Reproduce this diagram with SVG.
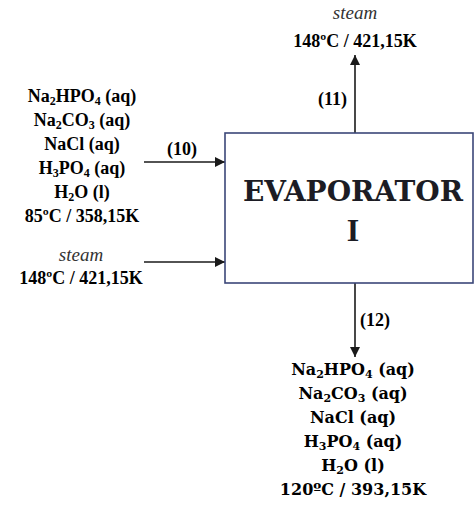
<svg xmlns="http://www.w3.org/2000/svg" width="476" height="516" viewBox="0 0 476 516">
<defs>
<marker id="ah" viewBox="0 0 10 10" refX="10" refY="5" markerWidth="10" markerHeight="10" markerUnits="userSpaceOnUse" orient="auto">
<path d="M0,0 L10,5 L0,10 Z" fill="#1a1a1a"/>
</marker>
</defs>
<rect width="476" height="516" fill="#fff"/>
<g id="connectors" stroke="#1a1a1a" stroke-width="1.6" fill="none">
<line x1="144" y1="162" x2="225" y2="162" marker-end="url(#ah)"/>
<line x1="144" y1="262" x2="225" y2="262" marker-end="url(#ah)"/>
<line x1="355" y1="133" x2="355" y2="55" marker-end="url(#ah)"/>
<line x1="355" y1="283" x2="355" y2="357" marker-end="url(#ah)"/>
</g>
<text font-family="Liberation Serif" font-size="18" font-weight="bold" x="167" y="155">(10)</text>
<text font-family="Liberation Serif" font-size="18" font-weight="bold" x="318" y="105">(11)</text>
<text font-family="Liberation Serif" font-size="18" font-weight="bold" x="360" y="326">(12)</text>
<g id="evaporator">
<rect x="225" y="133" width="248" height="150" fill="#fff" stroke="#3b4778" stroke-width="1.6"/>
<text font-family="DejaVu Serif" font-size="28" font-weight="bold" text-anchor="middle" fill="#1c1c24" x="353" y="201">EVAPORATOR</text>
<text font-family="serif" font-size="32" font-weight="bold" text-anchor="middle" fill="#1c1c24" x="353" y="241">I</text>
</g>
<g id="feed">
<text font-family="Liberation Serif" font-size="18" font-weight="bold" text-anchor="middle" x="82" y="102">Na<tspan font-size="12" dy="3">2</tspan><tspan dy="-3">HPO</tspan><tspan font-size="12" dy="3">4</tspan><tspan dy="-3"> (aq)</tspan></text>
<text font-family="Liberation Serif" font-size="18" font-weight="bold" text-anchor="middle" x="82" y="126">Na<tspan font-size="12" dy="3">2</tspan><tspan dy="-3">CO</tspan><tspan font-size="12" dy="3">3</tspan><tspan dy="-3"> (aq)</tspan></text>
<text font-family="Liberation Serif" font-size="18" font-weight="bold" text-anchor="middle" x="82" y="150">NaCl (aq)</text>
<text font-family="Liberation Serif" font-size="18" font-weight="bold" text-anchor="middle" x="82" y="174">H<tspan font-size="12" dy="3">3</tspan><tspan dy="-3">PO</tspan><tspan font-size="12" dy="3">4</tspan><tspan dy="-3"> (aq)</tspan></text>
<text font-family="Liberation Serif" font-size="18" font-weight="bold" text-anchor="middle" x="82" y="198">H<tspan font-size="12" dy="3">2</tspan><tspan dy="-3">O (l)</tspan></text>
<text font-family="Liberation Serif" font-size="18" font-weight="bold" text-anchor="middle" x="82" y="222">85ºC / 358,15K</text>
</g>
<g id="steam-in">
<text font-family="Liberation Serif" font-style="italic" font-size="19" fill="#333" text-anchor="middle" x="81" y="261">steam</text>
<text font-family="Liberation Serif" font-size="18" font-weight="bold" text-anchor="middle" x="81" y="284">148ºC / 421,15K</text>
</g>
<g id="steam-out">
<text font-family="Times New Roman" font-style="italic" font-size="19" fill="#333" text-anchor="middle" x="355" y="19">steam</text>
<text font-family="Times New Roman" font-size="18" font-weight="bold" text-anchor="middle" x="355" y="47">148ºC / 421,15K</text>
</g>
<g id="product">
<text font-family="DejaVu Serif" font-size="16" font-weight="bold" text-anchor="middle" x="353" y="375">Na<tspan font-size="11" dy="3">2</tspan><tspan dy="-3">HPO</tspan><tspan font-size="11" dy="3">4</tspan><tspan dy="-3"> (aq)</tspan></text>
<text font-family="DejaVu Serif" font-size="16" font-weight="bold" text-anchor="middle" x="353" y="399">Na<tspan font-size="11" dy="3">2</tspan><tspan dy="-3">CO</tspan><tspan font-size="11" dy="3">3</tspan><tspan dy="-3"> (aq)</tspan></text>
<text font-family="DejaVu Serif" font-size="16" font-weight="bold" text-anchor="middle" x="353" y="423">NaCl (aq)</text>
<text font-family="DejaVu Serif" font-size="16" font-weight="bold" text-anchor="middle" x="353" y="447">H<tspan font-size="11" dy="3">3</tspan><tspan dy="-3">PO</tspan><tspan font-size="11" dy="3">4</tspan><tspan dy="-3"> (aq)</tspan></text>
<text font-family="DejaVu Serif" font-size="16" font-weight="bold" text-anchor="middle" x="353" y="471">H<tspan font-size="11" dy="3">2</tspan><tspan dy="-3">O (l)</tspan></text>
<text font-family="DejaVu Serif" font-size="16" font-weight="bold" text-anchor="middle" x="353" y="495">120ºC / 393,15K</text>
</g>
</svg>
